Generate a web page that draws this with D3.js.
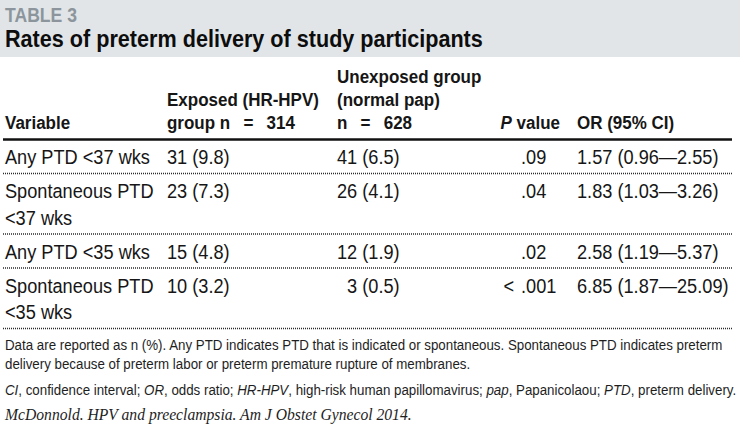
<!DOCTYPE html>
<html>
<head>
<meta charset="utf-8">
<script src="https://cdn.jsdelivr.net/npm/d3@7"></script>
<style>
  html, body { margin: 0; padding: 0; background: #fff; }
  svg { display: block; }
  text { white-space: pre; }
</style>
</head>
<body>
<script>
// ---- data ----
const tableLabel = "TABLE 3";
const tableTitle = "Rates of preterm delivery of study participants";
const headerLines = [
  ["Variable"],
  ["Exposed (HR-HPV)", "group n = 314"],
  ["Unexposed group", "(normal pap)", "n = 628"],
  ["P value"],
  ["OR (95% CI)"]
];
const variables = [
  ["Any PTD <37 wks"],
  ["Spontaneous PTD", "<37 wks"],
  ["Any PTD <35 wks"],
  ["Spontaneous PTD", "<35 wks"]
];
const exposedN = [31, 23, 15, 10];
const exposedPct = [9.8, 7.3, 4.8, 3.2];
const unexposedN = [41, 26, 12, 3];
const unexposedPct = [6.5, 4.1, 1.9, 0.5];
const pPrefix = ["", "", "", "<"];
const pValues = [".09", ".04", ".02", ".001"];
const orValues = [1.57, 1.83, 2.58, 6.85];
const ciLow = [0.96, 1.03, 1.19, 1.87];
const ciHigh = [2.55, 3.26, 5.37, 25.09];
const footnotes = [
  "Data are reported as n (%). Any PTD indicates PTD that is indicated or spontaneous. Spontaneous PTD indicates preterm",
  "delivery because of preterm labor or preterm premature rupture of membranes."
];
const abbrevTerms = ["CI", "OR", "HR-HPV", "pap", "PTD"];
const abbrevMeanings = ["confidence interval", "odds ratio", "high-risk human papillomavirus", "Papanicolaou", "preterm delivery"];
const citation = "McDonnold. HPV and preeclampsia. Am J Obstet Gynecol 2014.";

// ---- layout ----
const W = 740, H = 435;
const sans = "'Liberation Sans', Arial, Helvetica, sans-serif";
const serif = "'Liberation Serif', 'Times New Roman', serif";
const ink = "#161616";
const svg = d3.select("body").append("svg").attr("width", W).attr("height", H);

// measure natural width of a string with given style
function measure(str, size, weight, family, style) {
  const t = svg.append("text").attr("x", -999).attr("y", -999)
    .attr("font-family", family || sans).attr("font-size", size)
    .attr("font-weight", weight || "normal").attr("font-style", style || "normal").text(str);
  const w = t.node().getComputedTextLength();
  t.remove();
  return w;
}
// condensed text: group translated to (x,y) and squeezed horizontally by sx
function ctext(parent, x, y, sx, o) {
  const g = parent.append("g").attr("transform", `translate(${x},${y}) scale(${sx},1)`);
  const t = g.append("text").attr("x", 0).attr("y", 0)
    .attr("font-family", o.family || sans).attr("font-size", o.size)
    .attr("font-weight", o.weight || "normal").attr("fill", o.fill || ink)
    .attr("text-anchor", o.anchor || "start");
  if (o.style) t.attr("font-style", o.style);
  return t;
}
// typeset "=" with math spacing, as in the reference
const mathEq = s => s.replace(" = ", "\u2002 = \u2002");

const colX = d3.scaleOrdinal()
  .domain(["variable", "exposed", "unexposed", "p", "or"])
  .range([5, 167, 337, 521, 577]);

// sizes + horizontal squeeze derived from reference text widths
const labelSize = 20, titleSize = 24, headSize = 19, bodySize = 19.5, noteSize = 13.8, citeSize = 16;
const sxLabel = 72 / measure(tableLabel, labelSize, "bold");
const sxTitle = 478 / measure(tableTitle, titleSize, "bold");
const sxHead = 152 / measure(headerLines[1][0], headSize, "bold");
const sxBody = 145 / measure(variables[0][0], bodySize);
const sxNote = 718 / measure(footnotes[0], noteSize);
const sxCite = 407 / measure(citation, citeSize, "normal", serif, "italic");

// header band
svg.append("rect").attr("x", 0).attr("y", 0).attr("width", W).attr("height", 57).attr("fill", "#e1e5e8");
ctext(svg, 5, 21.5, sxLabel, { size: labelSize, weight: "bold", fill: "#8c959c" }).text(tableLabel);
ctext(svg, 5, 47, sxTitle, { size: titleSize, weight: "bold", fill: "#0d0d0d" }).text(tableTitle);

// column headers, bottom aligned
const headLine = 23, headBase = 129;
const headKeys = ["variable", "exposed", "unexposed", "p", "or"];
headerLines.forEach((lines, i) => {
  lines.forEach((ln, j) => {
    const y = headBase - (lines.length - 1 - j) * headLine;
    if (headKeys[i] === "p") {
      const t = ctext(svg, 560, y, sxHead, { size: headSize, weight: "bold", anchor: "end" });
      t.append("tspan").attr("font-style", "italic").text("P");
      t.append("tspan").text(" value");
    } else {
      ctext(svg, colX(headKeys[i]), y, sxHead, { size: headSize, weight: "bold" }).text(mathEq(ln));
    }
  });
});

// thick rule under header
svg.append("line").attr("x1", 3).attr("x2", 732).attr("y1", 139.5).attr("y2", 139.5)
  .attr("stroke", "#111").attr("stroke-width", 2.5);

// body rows
const lineGap = 26.5, topPad = 24.5, botPad = 9.5;
const rowTops = [];
let yCur = 139.5;
variables.forEach(v => { rowTops.push(yCur); yCur += topPad + (v.length - 1) * lineGap + botPad; });
const rowY = d3.scaleOrdinal().domain(d3.range(variables.length)).range(rowTops.map(t => t + topPad));
const twoDigits = measure("00", bodySize) * sxBody;

variables.forEach((v, i) => {
  const y = rowY(i);
  v.forEach((ln, j) => ctext(svg, colX("variable"), y + j * lineGap, sxBody, { size: bodySize }).text(ln));
  ctext(svg, colX("exposed"), y, sxBody, { size: bodySize })
    .text(`${exposedN[i]} (${exposedPct[i].toFixed(1)})`);
  ctext(svg, colX("unexposed") + twoDigits, y, sxBody, { size: bodySize, anchor: "end" }).text(unexposedN[i]);
  ctext(svg, colX("unexposed") + twoDigits, y, sxBody, { size: bodySize })
    .text(` (${unexposedPct[i].toFixed(1)})`);
  ctext(svg, colX("p"), y, sxBody, { size: bodySize }).text(pValues[i]);
  if (pPrefix[i]) ctext(svg, colX("p") - 7, y, sxBody, { size: bodySize, anchor: "end" }).text(pPrefix[i]);
  ctext(svg, colX("or"), y, sxBody, { size: bodySize })
    .text(`${orValues[i].toFixed(2)} (${ciLow[i].toFixed(2)}\u2014${ciHigh[i].toFixed(2)})`);
  const yr = rowTops[i] + topPad + (v.length - 1) * lineGap + botPad;
  svg.append("line").attr("x1", 3).attr("x2", 732).attr("y1", yr).attr("y2", yr)
    .attr("stroke", "#2a2a2a").attr("stroke-width", 1.3).attr("stroke-dasharray", "1,1");
});

// footnotes
footnotes.forEach((f, i) =>
  ctext(svg, 5, 350 + i * 19, sxNote, { size: noteSize, fill: "#1e1e1e" }).text(f));
const ab = ctext(svg, 5, 395, sxNote, { size: noteSize, fill: "#1e1e1e" });
abbrevTerms.forEach((a, i) => {
  ab.append("tspan").attr("font-style", "italic").text(a);
  ab.append("tspan").text(`, ${abbrevMeanings[i]}${i < abbrevTerms.length - 1 ? "; " : "."}`);
});
ctext(svg, 5, 420, sxCite, { size: citeSize, family: serif, style: "italic", fill: "#1e1e1e" }).text(citation);
</script>
</body>
</html>
